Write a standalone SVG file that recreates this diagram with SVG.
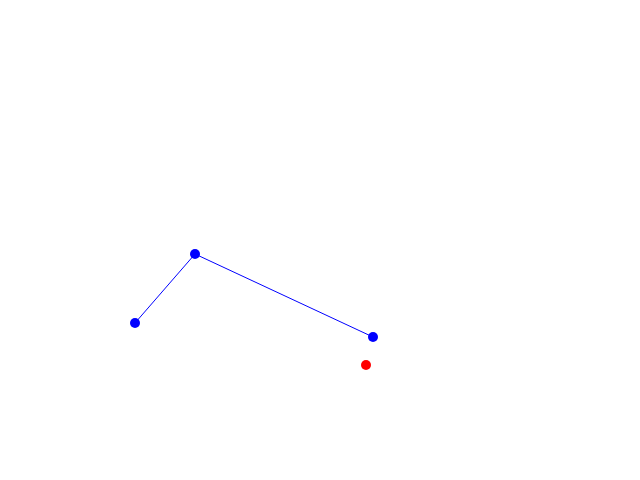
<svg xmlns="http://www.w3.org/2000/svg" width="640" height="480" viewBox="0 0 640 480">
<style>.b{fill:#0000ff}.r{fill:#ff0000}.l{stroke:#0000ff;stroke-width:1;fill:none}</style>
<rect width="640" height="480" fill="#ffffff"/>
<g id="connectors">
<polyline class="l" points="135,323 195,254 373,337"/>
</g>
<g id="p1"><circle class="b" cx="135" cy="323" r="5"/></g>
<g id="p2"><circle class="b" cx="195" cy="254" r="5"/></g>
<g id="p3"><circle class="b" cx="373" cy="337" r="5"/></g>
<g id="p4"><circle class="r" cx="366" cy="365" r="5"/></g>
</svg>
